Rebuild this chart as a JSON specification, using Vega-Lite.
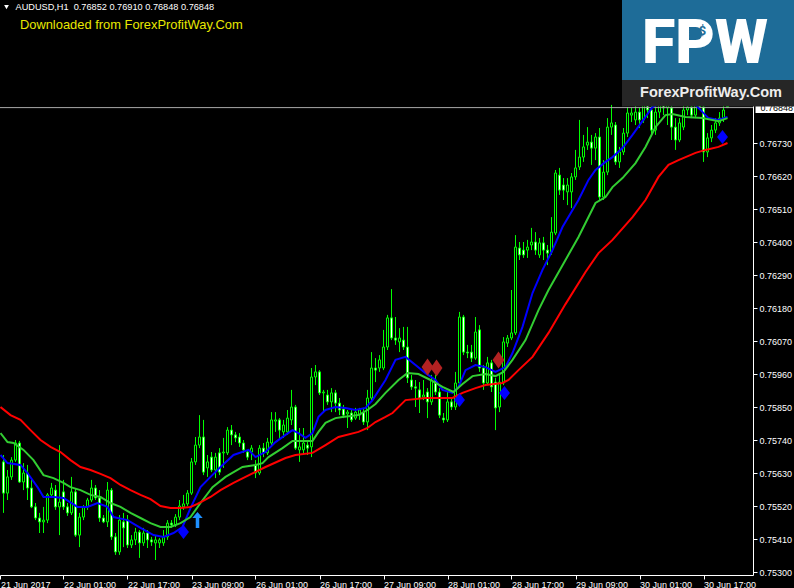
{
"$schema":"https://vega.github.io/schema/vega-lite/v6.json",
"width":753,"height":575,
"autosize":{"type":"none"},
"padding":{"left":0,"top":0,"right":41,"bottom":13},
"background":"#000000",
"config":{"view":{"stroke":null},
 "scale":{"continuousPadding":0},
 "axis":{"grid":false,"domainColor":"#ffffff","tickColor":"#ffffff","labelColor":"#ffffff","labelFont":"Liberation Sans","labelFontSize":9,"domainWidth":1,"tickWidth":1,"tickSize":4,"labelFlush":false,"labelOverlap":false},
 "axisX":{"labelAlign":"left","labelBaseline":"top","labelPadding":1},
 "axisY":{"labelAlign":"left","labelBaseline":"middle","labelPadding":2}},
"resolve":{"axis":{"x":"shared","y":"shared"}},
"datasets":{
"candles":[
{"i":0,"o":0.75667,"h":0.7569,"l":0.75497,"c":0.75563},
{"i":1,"o":0.75563,"h":0.7564,"l":0.7554,"c":0.75617},
{"i":2,"o":0.75617,"h":0.75683,"l":0.75607,"c":0.75673},
{"i":3,"o":0.75673,"h":0.7574,"l":0.75667,"c":0.7573},
{"i":4,"o":0.7573,"h":0.75737,"l":0.75597,"c":0.756},
{"i":5,"o":0.756,"h":0.75663,"l":0.75573,"c":0.7563},
{"i":6,"o":0.7563,"h":0.75657,"l":0.7554,"c":0.7558},
{"i":7,"o":0.7558,"h":0.75607,"l":0.75513,"c":0.75517},
{"i":8,"o":0.75517,"h":0.7553,"l":0.75473,"c":0.7548},
{"i":9,"o":0.7548,"h":0.75497,"l":0.7543,"c":0.75467},
{"i":10,"o":0.75467,"h":0.75517,"l":0.7543,"c":0.75473},
{"i":11,"o":0.75473,"h":0.75563,"l":0.75463,"c":0.75557},
{"i":12,"o":0.75557,"h":0.75597,"l":0.75547,"c":0.7558},
{"i":13,"o":0.75573,"h":0.7559,"l":0.75507,"c":0.75517},
{"i":14,"o":0.75517,"h":0.75723,"l":0.75423,"c":0.75533},
{"i":15,"o":0.75567,"h":0.75607,"l":0.75507,"c":0.75517},
{"i":16,"o":0.75517,"h":0.7553,"l":0.75487,"c":0.75497},
{"i":17,"o":0.75497,"h":0.75617,"l":0.7549,"c":0.75567},
{"i":18,"o":0.75567,"h":0.7558,"l":0.75417,"c":0.75423},
{"i":19,"o":0.75423,"h":0.75497,"l":0.75383,"c":0.75483},
{"i":20,"o":0.75483,"h":0.75523,"l":0.75473,"c":0.75517},
{"i":21,"o":0.75517,"h":0.75547,"l":0.75507,"c":0.7554},
{"i":22,"o":0.7554,"h":0.75607,"l":0.75533,"c":0.7558},
{"i":23,"o":0.7558,"h":0.7559,"l":0.7554,"c":0.75547},
{"i":24,"o":0.75547,"h":0.75573,"l":0.75467,"c":0.7548},
{"i":25,"o":0.7548,"h":0.7549,"l":0.75463,"c":0.75467},
{"i":26,"o":0.75467,"h":0.756,"l":0.7545,"c":0.75573},
{"i":27,"o":0.75573,"h":0.7558,"l":0.75407,"c":0.75417},
{"i":28,"o":0.75417,"h":0.7543,"l":0.75357,"c":0.75367},
{"i":29,"o":0.75367,"h":0.7549,"l":0.75357,"c":0.75473},
{"i":30,"o":0.75467,"h":0.75497,"l":0.75383,"c":0.75447},
{"i":31,"o":0.75473,"h":0.7549,"l":0.7538,"c":0.7539},
{"i":32,"o":0.7539,"h":0.75423,"l":0.7538,"c":0.75407},
{"i":33,"o":0.75407,"h":0.75447,"l":0.7539,"c":0.75433},
{"i":34,"o":0.75433,"h":0.7544,"l":0.75347,"c":0.75397},
{"i":35,"o":0.75397,"h":0.75447,"l":0.75387,"c":0.7543},
{"i":36,"o":0.7543,"h":0.7544,"l":0.7538,"c":0.75407},
{"i":37,"o":0.75407,"h":0.75417,"l":0.75387,"c":0.754},
{"i":38,"o":0.75397,"h":0.75423,"l":0.7534,"c":0.75407},
{"i":39,"o":0.75397,"h":0.75413,"l":0.7538,"c":0.75407},
{"i":40,"o":0.75397,"h":0.7544,"l":0.75387,"c":0.75417},
{"i":41,"o":0.75417,"h":0.75473,"l":0.75407,"c":0.75463},
{"i":42,"o":0.75463,"h":0.75473,"l":0.75447,"c":0.75457},
{"i":43,"o":0.75457,"h":0.75493,"l":0.7545,"c":0.75483},
{"i":44,"o":0.75483,"h":0.7554,"l":0.75473,"c":0.7552},
{"i":45,"o":0.75517,"h":0.75557,"l":0.75507,"c":0.75527},
{"i":46,"o":0.75527,"h":0.75573,"l":0.7552,"c":0.75563},
{"i":47,"o":0.75563,"h":0.7568,"l":0.75557,"c":0.75667},
{"i":48,"o":0.75667,"h":0.7575,"l":0.75657,"c":0.75723},
{"i":49,"o":0.75723,"h":0.75823,"l":0.75713,"c":0.7575},
{"i":50,"o":0.7575,"h":0.75807,"l":0.75623,"c":0.75633},
{"i":51,"o":0.75647,"h":0.7569,"l":0.75617,"c":0.75667},
{"i":52,"o":0.75683,"h":0.757,"l":0.75633,"c":0.7564},
{"i":53,"o":0.7564,"h":0.75697,"l":0.75613,"c":0.75683},
{"i":54,"o":0.75697,"h":0.75713,"l":0.75623,"c":0.75633},
{"i":55,"o":0.75697,"h":0.75747,"l":0.75647,"c":0.757},
{"i":56,"o":0.75697,"h":0.75783,"l":0.7569,"c":0.75773},
{"i":57,"o":0.75773,"h":0.7579,"l":0.75723,"c":0.75757},
{"i":58,"o":0.75757,"h":0.75767,"l":0.75733,"c":0.75747},
{"i":59,"o":0.7575,"h":0.75763,"l":0.75717,"c":0.7573},
{"i":60,"o":0.7573,"h":0.7574,"l":0.75697,"c":0.75707},
{"i":61,"o":0.757,"h":0.75707,"l":0.75673,"c":0.75683},
{"i":62,"o":0.757,"h":0.75723,"l":0.75673,"c":0.75713},
{"i":63,"o":0.75657,"h":0.75673,"l":0.75613,"c":0.7563},
{"i":64,"o":0.7563,"h":0.75723,"l":0.75623,"c":0.75713},
{"i":65,"o":0.75713,"h":0.7573,"l":0.75683,"c":0.75697},
{"i":66,"o":0.75697,"h":0.75747,"l":0.7569,"c":0.75733},
{"i":67,"o":0.7573,"h":0.75833,"l":0.75723,"c":0.75807},
{"i":68,"o":0.75803,"h":0.75833,"l":0.75767,"c":0.75807},
{"i":69,"o":0.75807,"h":0.75813,"l":0.7574,"c":0.75773},
{"i":70,"o":0.75767,"h":0.75807,"l":0.75747,"c":0.7579},
{"i":71,"o":0.75767,"h":0.7584,"l":0.75757,"c":0.75813},
{"i":72,"o":0.75807,"h":0.75907,"l":0.7579,"c":0.7585},
{"i":73,"o":0.7585,"h":0.75857,"l":0.75707,"c":0.75713},
{"i":74,"o":0.75707,"h":0.7578,"l":0.75667,"c":0.75717},
{"i":75,"o":0.75707,"h":0.7578,"l":0.7569,"c":0.7573},
{"i":76,"o":0.75723,"h":0.7574,"l":0.7569,"c":0.75713},
{"i":77,"o":0.75717,"h":0.7598,"l":0.75683,"c":0.7595},
{"i":78,"o":0.7595,"h":0.7599,"l":0.75923,"c":0.75967},
{"i":79,"o":0.75967,"h":0.75973,"l":0.7589,"c":0.75897},
{"i":80,"o":0.75897,"h":0.75907,"l":0.75833,"c":0.759},
{"i":81,"o":0.7589,"h":0.75907,"l":0.75857,"c":0.75867},
{"i":82,"o":0.75867,"h":0.75913,"l":0.75833,"c":0.75897},
{"i":83,"o":0.75897,"h":0.75907,"l":0.75833,"c":0.75863},
{"i":84,"o":0.75863,"h":0.7588,"l":0.75823,"c":0.7584},
{"i":85,"o":0.75843,"h":0.75857,"l":0.75813,"c":0.75823},
{"i":86,"o":0.75827,"h":0.7584,"l":0.7578,"c":0.75833},
{"i":87,"o":0.7583,"h":0.7584,"l":0.758,"c":0.75807},
{"i":88,"o":0.75813,"h":0.75847,"l":0.75807,"c":0.75833},
{"i":89,"o":0.75823,"h":0.75847,"l":0.75807,"c":0.7584},
{"i":90,"o":0.75833,"h":0.75847,"l":0.7579,"c":0.758},
{"i":91,"o":0.758,"h":0.75907,"l":0.75773,"c":0.7588},
{"i":92,"o":0.7588,"h":0.76033,"l":0.75873,"c":0.7598},
{"i":93,"o":0.7598,"h":0.76013,"l":0.75933,"c":0.75973},
{"i":94,"o":0.7598,"h":0.76023,"l":0.75967,"c":0.76007},
{"i":95,"o":0.7598,"h":0.76107,"l":0.75973,"c":0.7605},
{"i":96,"o":0.7605,"h":0.76157,"l":0.7604,"c":0.76147},
{"i":97,"o":0.76147,"h":0.76243,"l":0.76073,"c":0.7608},
{"i":98,"o":0.7608,"h":0.7615,"l":0.76057,"c":0.76073},
{"i":99,"o":0.76067,"h":0.76113,"l":0.76033,"c":0.7608},
{"i":100,"o":0.76073,"h":0.76117,"l":0.7604,"c":0.7605},
{"i":101,"o":0.7605,"h":0.76117,"l":0.7593,"c":0.75947},
{"i":102,"o":0.7594,"h":0.75957,"l":0.75907,"c":0.75917},
{"i":103,"o":0.75917,"h":0.7594,"l":0.7585,"c":0.75913},
{"i":104,"o":0.75907,"h":0.75933,"l":0.7583,"c":0.7588},
{"i":105,"o":0.75883,"h":0.7594,"l":0.75873,"c":0.7589},
{"i":106,"o":0.759,"h":0.75913,"l":0.75813,"c":0.75867},
{"i":107,"o":0.75867,"h":0.75957,"l":0.75857,"c":0.7594},
{"i":108,"o":0.7594,"h":0.75957,"l":0.7589,"c":0.759},
{"i":109,"o":0.759,"h":0.75913,"l":0.75813,"c":0.75823},
{"i":110,"o":0.75813,"h":0.7583,"l":0.75797,"c":0.75807},
{"i":111,"o":0.75807,"h":0.759,"l":0.758,"c":0.75867},
{"i":112,"o":0.75867,"h":0.7588,"l":0.7584,"c":0.7585},
{"i":113,"o":0.7585,"h":0.75967,"l":0.7584,"c":0.7593},
{"i":114,"o":0.7593,"h":0.76167,"l":0.75923,"c":0.7615},
{"i":115,"o":0.7615,"h":0.76157,"l":0.76023,"c":0.76033},
{"i":116,"o":0.76033,"h":0.76057,"l":0.76013,"c":0.7603},
{"i":117,"o":0.76033,"h":0.76057,"l":0.76,"c":0.76013},
{"i":118,"o":0.76013,"h":0.7615,"l":0.76007,"c":0.761},
{"i":119,"o":0.76107,"h":0.76123,"l":0.75967,"c":0.7598},
{"i":120,"o":0.7598,"h":0.7599,"l":0.75907,"c":0.7593},
{"i":121,"o":0.7593,"h":0.76017,"l":0.75923,"c":0.75997},
{"i":122,"o":0.75997,"h":0.76007,"l":0.759,"c":0.75917},
{"i":123,"o":0.75933,"h":0.75947,"l":0.75773,"c":0.75847},
{"i":124,"o":0.7585,"h":0.75957,"l":0.75833,"c":0.75933},
{"i":125,"o":0.7593,"h":0.76083,"l":0.75923,"c":0.76067},
{"i":126,"o":0.76063,"h":0.7609,"l":0.7605,"c":0.7608},
{"i":127,"o":0.7608,"h":0.7624,"l":0.76073,"c":0.76097},
{"i":128,"o":0.76097,"h":0.76423,"l":0.7609,"c":0.76383},
{"i":129,"o":0.7638,"h":0.764,"l":0.7634,"c":0.76357},
{"i":130,"o":0.76373,"h":0.764,"l":0.76347,"c":0.76357},
{"i":131,"o":0.76373,"h":0.76407,"l":0.76347,"c":0.76383},
{"i":132,"o":0.7639,"h":0.76447,"l":0.76373,"c":0.764},
{"i":133,"o":0.764,"h":0.76433,"l":0.76357,"c":0.76373},
{"i":134,"o":0.76357,"h":0.76413,"l":0.76347,"c":0.76397},
{"i":135,"o":0.76397,"h":0.76417,"l":0.7634,"c":0.76373},
{"i":136,"o":0.76373,"h":0.7639,"l":0.76323,"c":0.76363},
{"i":137,"o":0.76367,"h":0.76483,"l":0.76357,"c":0.76433},
{"i":138,"o":0.7643,"h":0.7664,"l":0.76423,"c":0.7663},
{"i":139,"o":0.76623,"h":0.76647,"l":0.76557,"c":0.76573},
{"i":140,"o":0.7659,"h":0.76613,"l":0.7654,"c":0.76573},
{"i":141,"o":0.76567,"h":0.76613,"l":0.76523,"c":0.7659},
{"i":142,"o":0.76567,"h":0.7663,"l":0.76513,"c":0.76617},
{"i":143,"o":0.76617,"h":0.76707,"l":0.76607,"c":0.76647},
{"i":144,"o":0.7665,"h":0.76807,"l":0.7664,"c":0.76683},
{"i":145,"o":0.76683,"h":0.76757,"l":0.76667,"c":0.76717},
{"i":146,"o":0.76723,"h":0.76783,"l":0.76707,"c":0.76733},
{"i":147,"o":0.76733,"h":0.76757,"l":0.76657,"c":0.76713},
{"i":148,"o":0.76713,"h":0.76763,"l":0.76673,"c":0.7675},
{"i":149,"o":0.7675,"h":0.7678,"l":0.7654,"c":0.7655},
{"i":150,"o":0.7655,"h":0.76673,"l":0.7654,"c":0.76633},
{"i":151,"o":0.76633,"h":0.76813,"l":0.76623,"c":0.76783},
{"i":152,"o":0.76783,"h":0.76857,"l":0.76757,"c":0.76797},
{"i":153,"o":0.7679,"h":0.768,"l":0.76657,"c":0.76667},
{"i":154,"o":0.76667,"h":0.76717,"l":0.76647,"c":0.767},
{"i":155,"o":0.767,"h":0.7678,"l":0.7669,"c":0.76763},
{"i":156,"o":0.76763,"h":0.7685,"l":0.7675,"c":0.7683},
{"i":157,"o":0.76823,"h":0.76847,"l":0.768,"c":0.7683},
{"i":158,"o":0.76807,"h":0.76857,"l":0.7679,"c":0.76833},
{"i":159,"o":0.76833,"h":0.76847,"l":0.7678,"c":0.76807},
{"i":160,"o":0.76807,"h":0.7688,"l":0.76797,"c":0.76863},
{"i":161,"o":0.76863,"h":0.769,"l":0.76813,"c":0.7684},
{"i":162,"o":0.7684,"h":0.76873,"l":0.76757,"c":0.76773},
{"i":163,"o":0.76773,"h":0.76857,"l":0.76757,"c":0.76833},
{"i":164,"o":0.76833,"h":0.7689,"l":0.76813,"c":0.76873},
{"i":165,"o":0.76873,"h":0.769,"l":0.76823,"c":0.76847},
{"i":166,"o":0.76847,"h":0.7688,"l":0.7679,"c":0.76857},
{"i":167,"o":0.76847,"h":0.76863,"l":0.7674,"c":0.76783},
{"i":168,"o":0.76783,"h":0.76813,"l":0.76707,"c":0.7674},
{"i":169,"o":0.7674,"h":0.76813,"l":0.76733,"c":0.76797},
{"i":170,"o":0.76783,"h":0.76857,"l":0.76773,"c":0.7684},
{"i":171,"o":0.7684,"h":0.76873,"l":0.76823,"c":0.7685},
{"i":172,"o":0.7685,"h":0.76873,"l":0.76813,"c":0.76823},
{"i":173,"o":0.76823,"h":0.7688,"l":0.76813,"c":0.76867},
{"i":174,"o":0.76867,"h":0.769,"l":0.7684,"c":0.7685},
{"i":175,"o":0.7685,"h":0.7689,"l":0.76667,"c":0.767},
{"i":176,"o":0.767,"h":0.76763,"l":0.76683,"c":0.76747},
{"i":177,"o":0.76747,"h":0.7679,"l":0.76733,"c":0.76773},
{"i":178,"o":0.76773,"h":0.76813,"l":0.76763,"c":0.76797},
{"i":179,"o":0.76797,"h":0.76833,"l":0.76787,"c":0.76813},
{"i":180,"o":0.76813,"h":0.76857,"l":0.768,"c":0.7684},
{"i":181,"o":0.76852,"h":0.7691,"l":0.76848,"c":0.76848}
],
"ma":[
{"s":"b","i":-0.75,"p":0.7569},{"s":"b","i":1,"p":0.75663},{"s":"b","i":4.25,"p":0.75657},{"s":"b","i":6,"p":0.7563},{"s":"b","i":8.5,"p":0.75583},{"s":"b","i":10,"p":0.7555},{"s":"b","i":12.5,"p":0.7555},{"s":"b","i":15,"p":0.75547},{"s":"b","i":18.5,"p":0.75517},{"s":"b","i":21,"p":0.75517},{"s":"b","i":23.5,"p":0.7553},{"s":"b","i":26,"p":0.75517},{"s":"b","i":27.5,"p":0.75483},{"s":"b","i":31,"p":0.75473},{"s":"b","i":34.25,"p":0.75447},{"s":"b","i":37.5,"p":0.75423},{"s":"b","i":40,"p":0.75417},{"s":"b","i":42.5,"p":0.7543},{"s":"b","i":44.75,"p":0.7545},{"s":"b","i":46.75,"p":0.75513},{"s":"b","i":49.25,"p":0.75583},{"s":"b","i":51.75,"p":0.75617},{"s":"b","i":54.25,"p":0.7565},{"s":"b","i":57.5,"p":0.7569},{"s":"b","i":61.25,"p":0.75707},{"s":"b","i":63,"p":0.75683},{"s":"b","i":65.5,"p":0.757},{"s":"b","i":68,"p":0.75733},{"s":"b","i":70.5,"p":0.75757},{"s":"b","i":72.25,"p":0.75773},{"s":"b","i":73.75,"p":0.75763},{"s":"b","i":75.5,"p":0.75747},{"s":"b","i":77.25,"p":0.75763},{"s":"b","i":78.75,"p":0.75817},{"s":"b","i":80.5,"p":0.7584},{"s":"b","i":83,"p":0.7585},{"s":"b","i":85.5,"p":0.75847},{"s":"b","i":88,"p":0.7584},{"s":"b","i":90.5,"p":0.75847},{"s":"b","i":92.25,"p":0.75873},{"s":"b","i":95.5,"p":0.7594},{"s":"b","i":98,"p":0.76007},{"s":"b","i":100.5,"p":0.76017},{"s":"b","i":103,"p":0.7599},{"s":"b","i":105.5,"p":0.75963},{"s":"b","i":108,"p":0.7594},{"s":"b","i":109.75,"p":0.75907},{"s":"b","i":112.25,"p":0.75897},{"s":"b","i":113.75,"p":0.75917},{"s":"b","i":115.5,"p":0.75973},{"s":"b","i":118,"p":0.7599},{"s":"b","i":120.5,"p":0.75983},{"s":"b","i":123,"p":0.75967},{"s":"b","i":125.5,"p":0.75983},{"s":"b","i":127.25,"p":0.7603},{"s":"b","i":129.75,"p":0.76117},{"s":"b","i":132.25,"p":0.7623},{"s":"b","i":134.75,"p":0.76307},{"s":"b","i":137.25,"p":0.76373},{"s":"b","i":139.75,"p":0.7645},{"s":"b","i":143.75,"p":0.7654},{"s":"b","i":146.25,"p":0.76607},{"s":"b","i":148,"p":0.7664},{"s":"b","i":150.5,"p":0.76667},{"s":"b","i":152.25,"p":0.76683},{"s":"b","i":154.75,"p":0.76713},{"s":"b","i":157.25,"p":0.76757},{"s":"b","i":160.5,"p":0.76817},{"s":"b","i":162.25,"p":0.7685},{"s":"b","i":165.5,"p":0.76873},{"s":"b","i":169.25,"p":0.76873},{"s":"b","i":173,"p":0.76857},{"s":"b","i":176.25,"p":0.76813},{"s":"b","i":178.75,"p":0.76807},{"s":"b","i":181,"p":0.76817},
{"s":"g","i":-0.75,"p":0.75763},{"s":"g","i":1,"p":0.75733},{"s":"g","i":2.5,"p":0.7573},{"s":"g","i":5,"p":0.75707},{"s":"g","i":7.5,"p":0.75673},{"s":"g","i":10,"p":0.75623},{"s":"g","i":12.5,"p":0.75613},{"s":"g","i":15,"p":0.75597},{"s":"g","i":16.75,"p":0.75583},{"s":"g","i":19.25,"p":0.75573},{"s":"g","i":21.75,"p":0.75557},{"s":"g","i":24.25,"p":0.7555},{"s":"g","i":26.75,"p":0.7553},{"s":"g","i":29.25,"p":0.75517},{"s":"g","i":31.75,"p":0.75497},{"s":"g","i":34.25,"p":0.7548},{"s":"g","i":36.75,"p":0.75463},{"s":"g","i":39.25,"p":0.7545},{"s":"g","i":41.75,"p":0.7545},{"s":"g","i":44.25,"p":0.75463},{"s":"g","i":46.75,"p":0.75483},{"s":"g","i":49.25,"p":0.7553},{"s":"g","i":52.25,"p":0.75583},{"s":"g","i":55.5,"p":0.75617},{"s":"g","i":59.75,"p":0.7565},{"s":"g","i":63,"p":0.75657},{"s":"g","i":64.75,"p":0.75663},{"s":"g","i":66.25,"p":0.75683},{"s":"g","i":69.75,"p":0.75713},{"s":"g","i":72.25,"p":0.75737},{"s":"g","i":77.25,"p":0.75737},{"s":"g","i":78.75,"p":0.75767},{"s":"g","i":80.5,"p":0.75797},{"s":"g","i":83,"p":0.75813},{"s":"g","i":84.75,"p":0.75817},{"s":"g","i":88.75,"p":0.75823},{"s":"g","i":91,"p":0.7584},{"s":"g","i":93,"p":0.7586},{"s":"g","i":95.5,"p":0.75897},{"s":"g","i":98.75,"p":0.7594},{"s":"g","i":101,"p":0.75963},{"s":"g","i":103.75,"p":0.7596},{"s":"g","i":106.75,"p":0.7594},{"s":"g","i":109.75,"p":0.75917},{"s":"g","i":112.5,"p":0.759},{"s":"g","i":114.75,"p":0.75927},{"s":"g","i":117.25,"p":0.75953},{"s":"g","i":120.5,"p":0.7596},{"s":"g","i":123,"p":0.75953},{"s":"g","i":125,"p":0.75967},{"s":"g","i":127.25,"p":0.76007},{"s":"g","i":130.5,"p":0.76073},{"s":"g","i":133.75,"p":0.76173},{"s":"g","i":136.25,"p":0.7624},{"s":"g","i":140.5,"p":0.7634},{"s":"g","i":143.75,"p":0.76417},{"s":"g","i":148,"p":0.7653},{"s":"g","i":150.5,"p":0.7655},{"s":"g","i":152.25,"p":0.76583},{"s":"g","i":154.75,"p":0.76613},{"s":"g","i":158,"p":0.76663},{"s":"g","i":160.5,"p":0.76717},{"s":"g","i":163,"p":0.76783},{"s":"g","i":165.5,"p":0.76823},{"s":"g","i":167.25,"p":0.76827},{"s":"g","i":170.5,"p":0.76817},{"s":"g","i":174.75,"p":0.76813},{"s":"g","i":178.75,"p":0.76803},{"s":"g","i":181,"p":0.76813},
{"s":"r","i":-0.75,"p":0.7585},{"s":"r","i":1.75,"p":0.75823},{"s":"r","i":4.25,"p":0.75807},{"s":"r","i":6.75,"p":0.75773},{"s":"r","i":9.25,"p":0.7574},{"s":"r","i":11.75,"p":0.75717},{"s":"r","i":14.25,"p":0.757},{"s":"r","i":16.75,"p":0.75673},{"s":"r","i":19.25,"p":0.7565},{"s":"r","i":21.75,"p":0.7564},{"s":"r","i":24.25,"p":0.75627},{"s":"r","i":26.75,"p":0.75613},{"s":"r","i":29.25,"p":0.7559},{"s":"r","i":31.75,"p":0.75573},{"s":"r","i":34.25,"p":0.75557},{"s":"r","i":36.75,"p":0.75543},{"s":"r","i":39.25,"p":0.7552},{"s":"r","i":41.75,"p":0.75513},{"s":"r","i":44.25,"p":0.75513},{"s":"r","i":46.75,"p":0.75517},{"s":"r","i":48.5,"p":0.75527},{"s":"r","i":51.75,"p":0.7555},{"s":"r","i":54.25,"p":0.75573},{"s":"r","i":57.5,"p":0.75597},{"s":"r","i":60.5,"p":0.75617},{"s":"r","i":65.5,"p":0.7565},{"s":"r","i":70.5,"p":0.7568},{"s":"r","i":73,"p":0.7569},{"s":"r","i":77.25,"p":0.75697},{"s":"r","i":80.5,"p":0.75723},{"s":"r","i":83.75,"p":0.7575},{"s":"r","i":88.75,"p":0.75767},{"s":"r","i":91,"p":0.7578},{"s":"r","i":93,"p":0.758},{"s":"r","i":95.5,"p":0.75817},{"s":"r","i":97.25,"p":0.7583},{"s":"r","i":100.5,"p":0.75873},{"s":"r","i":105.5,"p":0.7588},{"s":"r","i":112.25,"p":0.7588},{"s":"r","i":114.75,"p":0.75897},{"s":"r","i":118,"p":0.75913},{"s":"r","i":120.5,"p":0.75923},{"s":"r","i":124.75,"p":0.7593},{"s":"r","i":126.25,"p":0.7594},{"s":"r","i":128.75,"p":0.75973},{"s":"r","i":132.25,"p":0.76017},{"s":"r","i":136.25,"p":0.76097},{"s":"r","i":140.5,"p":0.76193},{"s":"r","i":145.5,"p":0.763},{"s":"r","i":148.75,"p":0.76363},{"s":"r","i":152.25,"p":0.76407},{"s":"r","i":157.25,"p":0.76483},{"s":"r","i":160.5,"p":0.7654},{"s":"r","i":163.75,"p":0.76617},{"s":"r","i":166.25,"p":0.76657},{"s":"r","i":168.75,"p":0.76673},{"s":"r","i":173,"p":0.76697},{"s":"r","i":175.5,"p":0.76707},{"s":"r","i":178.75,"p":0.76717},{"s":"r","i":181,"p":0.7673}
],
"signals":[
{"k":"bd","i":45,"p":0.75433},{"k":"bd","i":114,"p":0.75873},{"k":"bd","i":125.25,"p":0.75897},{"k":"bd","i":179.75,"p":0.7675},
{"k":"rd","i":106,"p":0.75983},{"k":"rd","i":108.25,"p":0.7598},{"k":"rd","i":123.75,"p":0.76007},
{"k":"up","i":48.5,"p":0.75473}
],
"bid":[{"i":-0.875,"i2":187.375,"p":0.76848}]
},
"layer":[
{"data":{"name":"candles"},"mark":{"type":"rule","color":"#00ff00","strokeWidth":1},
 "encoding":{
  "x":{"field":"i","type":"quantitative","title":null,"scale":{"domain":[-0.875,187.375],"nice":false,"zero":false,"padding":0},
   "axis":{"orient":"bottom","values":[-0.75,15,31,47,63,79,95,111,127,143,159,175],"labelExpr":"['21 Jun 2017','22 Jun 01:00','22 Jun 17:00','23 Jun 09:00','26 Jun 01:00','26 Jun 17:00','27 Jun 09:00','28 Jun 01:00','28 Jun 17:00','29 Jun 09:00','30 Jun 01:00','30 Jun 17:00'][floor((datum.value+1)/16)]"}},
  "y":{"field":"l","type":"quantitative","title":null,"scale":{"domain":[0.7529,0.772067],"nice":false,"zero":false},
   "axis":{"orient":"right","values":[0.753,0.7541,0.7552,0.7563,0.7574,0.7585,0.7596,0.7607,0.7618,0.7629,0.764,0.7651,0.7662,0.7673],"format":".5f"}},
  "y2":{"field":"h"}}},
{"data":{"name":"candles"},"mark":{"type":"bar","size":2,"stroke":"#00ff00","strokeWidth":1},
 "encoding":{
  "x":{"field":"i","type":"quantitative","title":null,"scale":{"domain":[-0.875,187.375],"nice":false,"zero":false,"padding":0},
   "axis":{"orient":"bottom","values":[-0.75,15,31,47,63,79,95,111,127,143,159,175],"labelExpr":"['21 Jun 2017','22 Jun 01:00','22 Jun 17:00','23 Jun 09:00','26 Jun 01:00','26 Jun 17:00','27 Jun 09:00','28 Jun 01:00','28 Jun 17:00','29 Jun 09:00','30 Jun 01:00','30 Jun 17:00'][floor((datum.value+1)/16)]"}},
  "y":{"field":"o","type":"quantitative","title":null,"scale":{"domain":[0.7529,0.772067],"nice":false,"zero":false},
   "axis":{"orient":"right","values":[0.753,0.7541,0.7552,0.7563,0.7574,0.7585,0.7596,0.7607,0.7618,0.7629,0.764,0.7651,0.7662,0.7673],"format":".5f"}},
  "y2":{"field":"c"},
  "fill":{"condition":{"test":"datum.c < datum.o","value":"#ffffff"},"value":"#000000"}}},
{"data":{"name":"bid"},"mark":{"type":"rule","color":"#a8a8a8","strokeWidth":1},
 "encoding":{
  "x":{"field":"i","type":"quantitative","title":null,"scale":{"domain":[-0.875,187.375],"nice":false,"zero":false,"padding":0},
   "axis":{"orient":"bottom","values":[-0.75,15,31,47,63,79,95,111,127,143,159,175],"labelExpr":"['21 Jun 2017','22 Jun 01:00','22 Jun 17:00','23 Jun 09:00','26 Jun 01:00','26 Jun 17:00','27 Jun 09:00','28 Jun 01:00','28 Jun 17:00','29 Jun 09:00','30 Jun 01:00','30 Jun 17:00'][floor((datum.value+1)/16)]"}},
  "x2":{"field":"i2"},
  "y":{"field":"p","type":"quantitative","title":null,"scale":{"domain":[0.7529,0.772067],"nice":false,"zero":false},
   "axis":{"orient":"right","values":[0.753,0.7541,0.7552,0.7563,0.7574,0.7585,0.7596,0.7607,0.7618,0.7629,0.764,0.7651,0.7662,0.7673],"format":".5f"}}}},
{"data":{"name":"ma"},"mark":{"type":"line","strokeWidth":2,"interpolate":"linear"},
 "encoding":{
  "x":{"field":"i","type":"quantitative","title":null,"scale":{"domain":[-0.875,187.375],"nice":false,"zero":false,"padding":0},
   "axis":{"orient":"bottom","values":[-0.75,15,31,47,63,79,95,111,127,143,159,175],"labelExpr":"['21 Jun 2017','22 Jun 01:00','22 Jun 17:00','23 Jun 09:00','26 Jun 01:00','26 Jun 17:00','27 Jun 09:00','28 Jun 01:00','28 Jun 17:00','29 Jun 09:00','30 Jun 01:00','30 Jun 17:00'][floor((datum.value+1)/16)]"}},
  "y":{"field":"p","type":"quantitative","title":null,"scale":{"domain":[0.7529,0.772067],"nice":false,"zero":false},
   "axis":{"orient":"right","values":[0.753,0.7541,0.7552,0.7563,0.7574,0.7585,0.7596,0.7607,0.7618,0.7629,0.764,0.7651,0.7662,0.7673],"format":".5f"}},
  "color":{"field":"s","type":"nominal","scale":{"domain":["b","g","r"],"range":["#0000ff","#32cd32","#ff0000"]},"legend":null}}},
{"data":{"name":"signals"},"transform":[{"filter":"datum.k == 'bd'"}],"mark":{"type":"point","shape":"M0,-1L0.78,0L0,1L-0.78,0Z","filled":true,"fill":"#0000ff","opacity":1,"size":196,"strokeWidth":0},
 "encoding":{
  "x":{"field":"i","type":"quantitative","title":null,"scale":{"domain":[-0.875,187.375],"nice":false,"zero":false,"padding":0},
   "axis":{"orient":"bottom","values":[-0.75,15,31,47,63,79,95,111,127,143,159,175],"labelExpr":"['21 Jun 2017','22 Jun 01:00','22 Jun 17:00','23 Jun 09:00','26 Jun 01:00','26 Jun 17:00','27 Jun 09:00','28 Jun 01:00','28 Jun 17:00','29 Jun 09:00','30 Jun 01:00','30 Jun 17:00'][floor((datum.value+1)/16)]"}},
  "y":{"field":"p","type":"quantitative","title":null,"scale":{"domain":[0.7529,0.772067],"nice":false,"zero":false},
   "axis":{"orient":"right","values":[0.753,0.7541,0.7552,0.7563,0.7574,0.7585,0.7596,0.7607,0.7618,0.7629,0.764,0.7651,0.7662,0.7673],"format":".5f"}}}},
{"data":{"name":"signals"},"transform":[{"filter":"datum.k == 'rd'"}],"mark":{"type":"point","shape":"M0,-1L0.7,0L0,1L-0.7,0Z","filled":true,"fill":"#b22222","opacity":1,"size":289,"strokeWidth":0},
 "encoding":{
  "x":{"field":"i","type":"quantitative","title":null,"scale":{"domain":[-0.875,187.375],"nice":false,"zero":false,"padding":0},
   "axis":{"orient":"bottom","values":[-0.75,15,31,47,63,79,95,111,127,143,159,175],"labelExpr":"['21 Jun 2017','22 Jun 01:00','22 Jun 17:00','23 Jun 09:00','26 Jun 01:00','26 Jun 17:00','27 Jun 09:00','28 Jun 01:00','28 Jun 17:00','29 Jun 09:00','30 Jun 01:00','30 Jun 17:00'][floor((datum.value+1)/16)]"}},
  "y":{"field":"p","type":"quantitative","title":null,"scale":{"domain":[0.7529,0.772067],"nice":false,"zero":false},
   "axis":{"orient":"right","values":[0.753,0.7541,0.7552,0.7563,0.7574,0.7585,0.7596,0.7607,0.7618,0.7629,0.764,0.7651,0.7662,0.7673],"format":".5f"}}}},
{"data":{"name":"signals"},"transform":[{"filter":"datum.k == 'up'"}],"mark":{"type":"point","shape":"M0,-1L0.65,-0.25L0.22,-0.25L0.22,1L-0.22,1L-0.22,-0.25L-0.65,-0.25Z","filled":true,"fill":"#1e90ff","opacity":1,"size":256,"strokeWidth":0},
 "encoding":{
  "x":{"field":"i","type":"quantitative","title":null,"scale":{"domain":[-0.875,187.375],"nice":false,"zero":false,"padding":0},
   "axis":{"orient":"bottom","values":[-0.75,15,31,47,63,79,95,111,127,143,159,175],"labelExpr":"['21 Jun 2017','22 Jun 01:00','22 Jun 17:00','23 Jun 09:00','26 Jun 01:00','26 Jun 17:00','27 Jun 09:00','28 Jun 01:00','28 Jun 17:00','29 Jun 09:00','30 Jun 01:00','30 Jun 17:00'][floor((datum.value+1)/16)]"}},
  "y":{"field":"p","type":"quantitative","title":null,"scale":{"domain":[0.7529,0.772067],"nice":false,"zero":false},
   "axis":{"orient":"right","values":[0.753,0.7541,0.7552,0.7563,0.7574,0.7585,0.7596,0.7607,0.7618,0.7629,0.764,0.7651,0.7662,0.7673],"format":".5f"}}}},
{"data":{"values":[
 {"k":"tri","i":0.75,"p":0.77183,"t":""},
 {"k":"title","i":3,"p":0.77183,"t":"AUDUSD,H1\u00a0 0.76852 0.76910 0.76848 0.76848"},
 {"k":"dl","i":4.1,"p":0.77123,"t":"Downloaded from ForexProfitWay.Com"},
 {"k":"box","i":188,"i2":198,"p":0.76867,"p2":0.7683,"t":"0.76848"},
 {"k":"blue","i":154.625,"i2":198,"p":0.7694,"p2":0.7725,"t":""},
 {"k":"dark","i":154.625,"i2":198,"p":0.76852,"p2":0.7694,"t":""},
 {"k":"fpw","i":175.375,"p":0.76997,"t":"FPW"},
 {"k":"dollar","i":174.75,"p":0.77102,"t":"$"},
 {"k":"site","i":176.875,"p":0.76883,"t":"ForexProfitWay.Com"}
]},
 "encoding":{
  "x":{"field":"i","type":"quantitative","title":null,"scale":{"domain":[-0.875,187.375],"nice":false,"zero":false,"padding":0},
   "axis":{"orient":"bottom","values":[-0.75,15,31,47,63,79,95,111,127,143,159,175],"labelExpr":"['21 Jun 2017','22 Jun 01:00','22 Jun 17:00','23 Jun 09:00','26 Jun 01:00','26 Jun 17:00','27 Jun 09:00','28 Jun 01:00','28 Jun 17:00','29 Jun 09:00','30 Jun 01:00','30 Jun 17:00'][floor((datum.value+1)/16)]"}},
  "y":{"field":"p","type":"quantitative","title":null,"scale":{"domain":[0.7529,0.772067],"nice":false,"zero":false},
   "axis":{"orient":"right","values":[0.753,0.7541,0.7552,0.7563,0.7574,0.7585,0.7596,0.7607,0.7618,0.7629,0.764,0.7651,0.7662,0.7673],"format":".5f"}}},
 "layer":[
  {"transform":[{"filter":"datum.k == 'tri'"}],"mark":{"type":"point","shape":"triangle-down","filled":true,"fill":"#ffffff","opacity":1,"size":22,"strokeWidth":0}},
  {"transform":[{"filter":"datum.k == 'title'"}],"mark":{"type":"text","align":"left","baseline":"middle","font":"Liberation Sans","fontSize":9.2,"color":"#ffffff"},"encoding":{"text":{"field":"t"}}},
  {"transform":[{"filter":"datum.k == 'dl'"}],"mark":{"type":"text","align":"left","baseline":"middle","font":"Liberation Sans","fontSize":12.9,"color":"#e8e800"},"encoding":{"text":{"field":"t"}}},
  {"transform":[{"filter":"datum.k == 'box'"}],"mark":{"type":"rect","color":"#ffffff"},"encoding":{"x2":{"field":"i2"},"y2":{"field":"p2"}}},
  {"transform":[{"filter":"datum.k == 'box'"}],"mark":{"type":"text","align":"left","baseline":"middle","font":"Liberation Sans","fontSize":9,"color":"#000000","dx":5},"encoding":{"y":{"datum":0.76848,"type":"quantitative","scale":{"domain":[0.7529,0.772067],"nice":false,"zero":false},"axis":{"orient":"right","values":[0.753,0.7541,0.7552,0.7563,0.7574,0.7585,0.7596,0.7607,0.7618,0.7629,0.764,0.7651,0.7662,0.7673],"format":".5f"}},"text":{"field":"t"}}},
  {"transform":[{"filter":"datum.k == 'blue'"}],"mark":{"type":"rect","color":"#1e6c98"},"encoding":{"x2":{"field":"i2"},"y2":{"field":"p2"}}},
  {"transform":[{"filter":"datum.k == 'dark'"}],"mark":{"type":"rect","color":"#262626"},"encoding":{"x2":{"field":"i2"},"y2":{"field":"p2"}}},
  {"transform":[{"filter":"datum.k == 'fpw'"}],"mark":{"type":"text","align":"center","baseline":"alphabetic","font":"Roboto","fontWeight":900,"fontSize":61,"color":"#ffffff"},"encoding":{"text":{"field":"t"}}},
  {"transform":[{"filter":"datum.k == 'dollar'"}],"mark":{"type":"text","align":"center","baseline":"middle","font":"Roboto","fontWeight":"bold","fontSize":13,"color":"#1e6c98"},"encoding":{"text":{"field":"t"}}},
  {"transform":[{"filter":"datum.k == 'site'"}],"mark":{"type":"text","align":"center","baseline":"alphabetic","font":"Liberation Sans","fontWeight":"bold","fontSize":14.5,"color":"#eeeeee"},"encoding":{"text":{"field":"t"}}}
 ]}
]
}
